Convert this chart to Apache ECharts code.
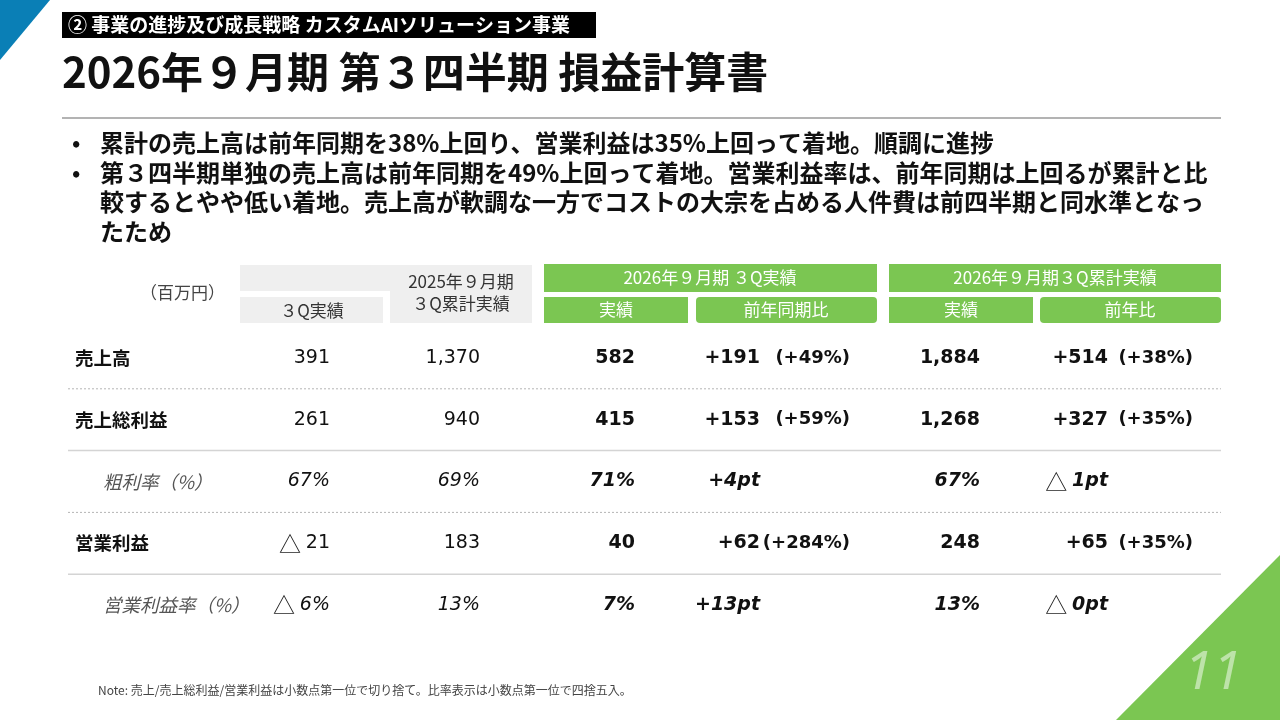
<!DOCTYPE html>
<head>
    <meta charset="utf-8">
    <title>損益計算書</title>
    <script src="https://cdn.jsdelivr.net/npm/echarts@6/dist/echarts.min.js"></script>
    <style>
        html, body { margin: 0; padding: 0; background: #fff; }
    </style>
</head>
<body>
<div id="main" style="width:1280px;height:720px"></div>
<script type="text/javascript">
    // 行ラベル
    var rowLabels = ['売上高', '売上総利益', '粗利率（%）', '営業利益', '営業利益率（%）'];
    // 比率の行かどうか
    var isRatioRow = [false, false, true, false, true];
    // 2025年9月期 3Q実績
    var prev3Q = [391, 261, 67, -21, -6];
    // 2025年9月期 3Q累計実績
    var prevCum = [1370, 940, 69, 183, 13];
    // 2026年9月期 3Q実績
    var cur3Q = [582, 415, 71, 40, 7];
    // 前年同期比（差額 / 率）
    var cur3QDiff = [191, 153, 4, 62, 13];
    var cur3QPct = [49, 59, null, 284, null];
    // 2026年9月期 3Q累計実績
    var curCum = [1884, 1268, 67, 248, 13];
    // 前年比（差額 / 率）  -0 は「△ 0pt」（マイナス丸め）
    var curCumDiff = [514, 327, -1, 65, -0];
    var curCumPct = [38, 35, null, 35, null];

    var bullets = [
        '累計の売上高は前年同期を38%上回り、営業利益は35%上回って着地。順調に進捗',
        '第３四半期単独の売上高は前年同期を49%上回って着地。営業利益率は、前年同期は上回るが累計と比\n較するとやや低い着地。売上高が軟調な一方でコストの大宗を占める人件費は前四半期と同水準となっ\nたため'
    ];

    var GREEN = '#7bc652';
    var GRAY = '#efefef';
    var JP = '"Noto Sans CJK JP", sans-serif';
    var NUM = '"DejaVu Sans", "Noto Sans CJK JP", sans-serif';

    // 列の右端（x軸 0-1280）
    var colX = [330, 480, 635, 760, 850, 980, 1108, 1193];

    var myChart = echarts.init(document.getElementById('main'));

    function isNeg(v) { return v < 0 || (v === 0 && 1 / v < 0); }
    function comma(v) { return String(Math.abs(v)).replace(/\B(?=(\d{3})+(?!\d))/g, ','); }

    // 値 -> 表示文字列（rich text）
    function fmtVal(v, ratio) {
        var s = comma(v) + (ratio ? '%' : '');
        return isNeg(v) ? '{tri|△ }' + '{v|' + s + '}' : '{v|' + s + '}';
    }
    function fmtDiff(v, ratio) {
        var s = comma(v) + (ratio ? 'pt' : '');
        return isNeg(v) ? '{tri|△ }' + '{v|' + s + '}' : '{v|+' + s + '}';
    }
    function fmtPct(v) {
        return v == null ? '' : '{p|(+' + v + '%)}';
    }

    function renderRow(params, api) {
        var i = api.value(1);
        var ratio = isRatioRow[i];
        var y = api.coord([0, i])[1];
        var band = api.size([0, 1])[1];
        var cells = [
            fmtVal(prev3Q[i], ratio), fmtVal(prevCum[i], ratio), fmtVal(cur3Q[i], ratio),
            fmtDiff(cur3QDiff[i], ratio), fmtPct(cur3QPct[i]),
            fmtVal(curCum[i], ratio), fmtDiff(curCumDiff[i], ratio), fmtPct(curCumPct[i])
        ];
        var children = [];
        // 行ラベル
        children.push({
            type: 'text',
            style: {
                x: api.coord([ratio ? 103 : 75, i])[0], y: y,
                text: rowLabels[i],
                font: (ratio ? 'italic normal ' : 'normal bold ') + '18.5px ' + JP,
                fill: ratio ? '#555' : '#111',
                verticalAlign: 'middle', align: 'left'
            }
        });
        cells.forEach(function (t, c) {
            var bold = c >= 2;
            children.push({
                type: 'text',
                style: {
                    x: api.coord([colX[c], i])[0], y: y,
                    text: t,
                    align: 'right', verticalAlign: 'middle',
                    rich: {
                        v: {
                            fontFamily: NUM, fontSize: 19,
                            fontWeight: bold ? 'bold' : 'normal',
                            fontStyle: ratio ? 'italic' : 'normal',
                            fill: '#111'
                        },
                        p: { fontFamily: NUM, fontSize: 18, fontWeight: 'bold', fill: '#111' },
                        tri: { fontFamily: JP, fontSize: 22, fontWeight: 'normal', fill: '#222' }
                    }
                }
            });
        });
        // 区切り線
        if (i < rowLabels.length - 1) {
            var yb = y + band / 2;
            children.push({
                type: 'line',
                shape: { x1: api.coord([68, i])[0], y1: yb, x2: api.coord([1221, i])[0], y2: yb },
                style: i % 2 === 0
                    ? { stroke: '#b5b5b5', lineWidth: 1, lineDash: [2, 2] }
                    : { stroke: '#d4d4d4', lineWidth: 1.5 }
            });
        }
        return { type: 'group', children: children };
    }

    function box(x, y, w, h, fill, r) {
        return { type: 'rect', shape: { x: x, y: y, width: w, height: h, r: r || 0 }, style: { fill: fill }, silent: true };
    }
    function txt(x, y, text, font, fill, align) {
        return {
            type: 'text', silent: true,
            style: { x: x, y: y, text: text, font: font, fill: fill, align: align || 'left', verticalAlign: 'middle' }
        };
    }

    var graphics = [
        // 左上・右下の三角形
        { type: 'polygon', shape: { points: [[0, 0], [50, 0], [0, 60]] }, style: { fill: '#0a7fb6' } },
        { type: 'polygon', shape: { points: [[1116, 720], [1280, 720], [1280, 555]] }, style: { fill: GREEN } },
        txt(1213, 674, '11', 'italic normal 52px "Noto Sans", sans-serif', 'rgba(255,255,255,0.5)', 'center'),
        // 見出し
        box(62, 12, 534, 26, '#000'),
        txt(68, 25, '② 事業の進捗及び成長戦略 カスタムAIソリューション事業', 'bold 19px ' + JP, '#fff'),
        txt(62, 72, '2026年９月期 第３四半期 損益計算書', 'bold 42px ' + JP, '#111'),
        { type: 'line', shape: { x1: 62, y1: 118, x2: 1221, y2: 118 }, style: { stroke: '#9a9a9a', lineWidth: 1.5 } },
        // 表ヘッダー（グレー）
        box(240, 265, 292, 26, GRAY),
        box(240, 297, 143, 26, GRAY),
        box(390, 265, 142, 58, GRAY),
        txt(225, 293, '（百万円）', '17px ' + JP, '#444', 'right'),
        txt(312, 311, '３Q実績', '17px ' + JP, '#333', 'center'),
        txt(461, 282, '2025年９月期', '17px ' + JP, '#333', 'center'),
        txt(461, 304, '３Q累計実績', '17px ' + JP, '#333', 'center'),
        // 表ヘッダー（グリーン）
        box(544, 264, 333, 28, GREEN),
        box(544, 297, 144, 26, GREEN),
        box(696, 297, 181, 26, GREEN, 4),
        box(889, 264, 332, 28, GREEN),
        box(889, 297, 144, 26, GREEN),
        box(1040, 297, 181, 26, GREEN, 4),
        txt(710, 278, '2026年９月期 ３Q実績', '17px ' + JP, '#fff', 'center'),
        txt(616, 310, '実績', '17px ' + JP, '#fff', 'center'),
        txt(786, 310, '前年同期比', '17px ' + JP, '#fff', 'center'),
        txt(1055, 278, '2026年９月期３Q累計実績', '17px ' + JP, '#fff', 'center'),
        txt(961, 310, '実績', '17px ' + JP, '#fff', 'center'),
        txt(1130, 310, '前年比', '17px ' + JP, '#fff', 'center'),
        // 注記
        txt(98, 690, 'Note: 売上/売上総利益/営業利益は小数点第一位で切り捨て。比率表示は小数点第一位で四捨五入。', '12px ' + JP, '#444')
    ];

    // 箇条書き
    var bulletY = [143, 173];
    bullets.forEach(function (b, k) {
        graphics.push(txt(72, bulletY[k], '•', 'bold 22px ' + JP, '#111'));
        graphics.push({
            type: 'text', silent: true,
            style: { x: 100, y: bulletY[k] - 15, text: b, font: 'bold 24px ' + JP, fill: '#111', lineHeight: 29.5, verticalAlign: 'top' }
        });
    });

    var option = {
        animation: false,
        grid: { left: 0, right: 0, top: 327, height: 309 },
        xAxis: { type: 'value', min: 0, max: 1280, show: false },
        yAxis: { type: 'category', data: rowLabels, inverse: true, show: false },
        graphic: graphics,
        series: [{
            type: 'custom',
            renderItem: renderRow,
            encode: { x: 0, y: 1 },
            data: rowLabels.map(function (l, i) { return [0, i]; })
        }]
    };
    myChart.setOption(option);
</script>
</body>
